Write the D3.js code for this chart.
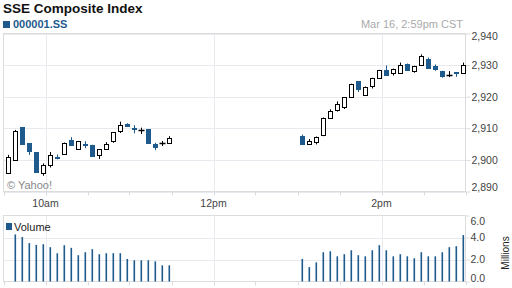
<!DOCTYPE html>
<html><head><meta charset="utf-8">
<script src="https://cdn.jsdelivr.net/npm/d3@7"></script>
<style>
html,body{margin:0;padding:0;background:#fff;}
svg{display:block;font-family:"Liberation Sans",Arial,sans-serif;}
</style></head>
<body>
<svg id="c" width="512" height="288"></svg>
<script>
// ---- data ----
const times = ["09:30","09:35","09:40","09:45","09:50","09:55","10:00","10:05","10:10","10:15","10:20","10:25",
  "10:30","10:35","10:40","10:45","10:50","10:55","11:00","11:05","11:10","11:15","11:20","11:25",
  "13:00","13:05","13:10","13:15","13:20","13:25","13:30","13:35","13:40","13:45","13:50","13:55",
  "14:00","14:05","14:10","14:15","14:20","14:25","14:30","14:35","14:40","14:45","14:50","14:55"];
const opens  = [2895.7,2900.2,2910.4,2905.3,2902.5,2896.1,2898.3,2901.0,2901.9,2906.2,2903.6,2905.1,
  2904.8,2901.4,2903.3,2906.0,2909.3,2911.4,2910.1,2909.4,2909.8,2905.0,2905.2,2905.3,
  2907.7,2905.1,2905.8,2907.9,2913.1,2915.8,2916.6,2920.0,2924.9,2920.7,2923.4,2926.0,
  2928.6,2927.6,2927.6,2930.2,2928.2,2930.2,2932.0,2929.6,2928.2,2926.8,2927.7,2927.6];
const closes = [2900.8,2909.3,2904.8,2902.6,2895.9,2898.5,2901.5,2900.6,2905.5,2904.4,2906.0,2904.7,
  2901.0,2903.3,2905.0,2908.8,2911.2,2910.4,2909.7,2909.4,2905.2,2903.7,2905.2,2906.9,
  2904.8,2905.9,2907.4,2913.4,2915.4,2917.8,2919.8,2924.1,2921.9,2923.2,2926.0,2928.5,
  2926.7,2928.9,2930.1,2928.1,2929.8,2933.0,2928.9,2928.2,2926.3,2926.8,2927.0,2930.0];
const highs  = [2901.6,2909.5,2910.4,2905.3,2902.5,2898.9,2902.5,2901.7,2905.5,2907.2,2906.0,2905.9,
  2904.8,2903.3,2905.6,2908.8,2912.1,2911.6,2911.0,2910.2,2909.8,2905.4,2906.0,2907.5,
  2908.0,2906.6,2907.4,2913.4,2916.0,2918.5,2919.8,2924.1,2924.9,2923.2,2926.0,2928.5,
  2929.9,2928.9,2930.8,2930.5,2929.8,2933.4,2932.4,2930.2,2928.2,2928.1,2927.7,2930.8];
const lows   = [2895.7,2900.2,2904.8,2901.6,2895.9,2895.0,2897.6,2900.2,2901.9,2904.4,2903.6,2903.7,
  2901.0,2900.3,2903.3,2905.4,2908.5,2910.4,2908.4,2908.2,2905.2,2903.1,2904.4,2905.3,
  2904.8,2905.1,2904.9,2907.5,2913.1,2915.3,2916.1,2920.0,2921.5,2920.7,2922.6,2926.0,
  2926.7,2926.7,2927.6,2928.1,2927.6,2930.2,2928.9,2928.2,2926.0,2926.2,2926.3,2927.6];
const volumes = [null,4.28,4.04,3.49,3.33,3.39,3.12,2.57,3.30,3.06,2.39,2.66,
  2.94,2.48,2.57,2.57,2.57,2.05,1.93,1.93,1.93,1.83,1.47,1.47,
  2.05,1.31,1.74,2.66,2.75,2.29,2.48,2.84,2.39,2.29,2.84,3.30,
  2.84,2.29,2.48,2.29,2.11,2.66,2.29,2.29,2.66,3.12,3.21,4.22];
const priceTicks = [2890,2900,2910,2920,2930,2940];
const volTicks = [0,2,4,6];
const timeLabels = [["10:00","10am"],["12:00","12pm"],["14:00","2pm"]];
const title = "SSE Composite Index";
const symbol = "000001.SS";
const stamp = "Mar 16, 2:59pm CST";

// ---- setup ----
const svg = d3.select("#c");
const parse = s => { const [h,m] = s.split(":").map(Number); return new Date(2015,2,16,h,m); };
const rows = times.map((t,i)=>({t:parse(t),o:opens[i],c:closes[i],h:highs[i],l:lows[i],v:volumes[i]}));
const BLUE = "#1f5a8d", GRID = "#e9e9f0", FRAME = "#dcdcdc", TXT = "#444";

const x = d3.scaleTime().domain([parse("09:30"),parse("15:00")]).range([3.5,465.5]);
const y = d3.scaleLinear().domain([2890,2940]).range([191.5,33.5]);
const yv = d3.scaleLinear().domain([0,6]).range([281.5,215.5]);
const cx = d => Math.round(x(new Date(+d.t + 3.5*60000))) + 0.5;
const px = v => Math.round(v) + 0.5;

// title
svg.append("text").attr("x",3).attr("y",13).attr("font-size",13.5).attr("font-weight","bold")
  .attr("fill","#111").text(title);
svg.append("rect").attr("x",3).attr("y",21).attr("width",7).attr("height",7).attr("fill",BLUE);
svg.append("text").attr("x",13).attr("y",28).attr("font-size",11).attr("font-weight","bold")
  .attr("fill",BLUE).text(symbol);
svg.append("text").attr("x",463).attr("y",28).attr("text-anchor","end").attr("font-size",11)
  .attr("fill","#aaa").text(stamp);

// ---- main panel grid ----
const g = svg.append("g");
g.selectAll(".hg").data(priceTicks).join("line")
  .attr("x1",3.5).attr("x2",465.5).attr("y1",d=>px(y(d))).attr("y2",d=>px(y(d)))
  .attr("stroke",GRID);
g.selectAll(".vg").data(timeLabels).join("line")
  .attr("x1",d=>px(x(parse(d[0])))).attr("x2",d=>px(x(parse(d[0]))))
  .attr("y1",33.5).attr("y2",191.5).attr("stroke",GRID);
g.append("rect").attr("x",3.5).attr("y",33.5).attr("width",462).attr("height",158)
  .attr("fill","none").attr("stroke",FRAME);

// right axis
const yAxis = d3.axisRight(y).tickValues(priceTicks).tickSize(5).tickFormat(d3.format(","));
const ya = svg.append("g").attr("transform","translate(465.5,0)").call(yAxis);
ya.select(".domain").remove();
ya.selectAll("line").attr("stroke",FRAME);
ya.selectAll("text").attr("font-size",10.5).attr("fill",TXT).attr("x",6)
  .attr("font-family","Liberation Sans,Arial,sans-serif")
  .attr("dy",d=> d===2890 ? "-0.05em" : (d===2940 ? "0.55em" : "0.32em"));

// bottom time axis (ticks every 30 min)
const tickTimes = d3.timeMinute.every(30).range(parse("09:30"),parse("15:01"));
svg.selectAll(".bt").data(tickTimes).join("line")
  .attr("x1",d=>px(x(d))).attr("x2",d=>px(x(d))).attr("y1",191.5).attr("y2",195.5).attr("stroke",FRAME);
svg.selectAll(".bl").data(timeLabels).join("text")
  .attr("x",d=>x(parse(d[0]))).attr("y",207).attr("text-anchor","middle")
  .attr("font-size",10.5).attr("fill",TXT).text(d=>d[1]);

svg.append("text").attr("x",7).attr("y",189).attr("font-size",11).attr("fill","#888").text("\u00A9 Yahoo!");

// ---- candles ----
const cg = svg.append("g");
rows.forEach(d=>{
  const up = d.c > d.o, flat = d.c === d.o;
  const col = flat ? "#000" : (up ? "#000" : BLUE);
  const X = cx(d);
  cg.append("line").attr("x1",X).attr("x2",X).attr("y1",y(d.h)).attr("y2",y(d.l))
    .attr("stroke",col).attr("stroke-width",1);
  if (flat) {
    cg.append("line").attr("x1",X-3).attr("x2",X+3).attr("y1",px(y(d.o))).attr("y2",px(y(d.o)))
      .attr("stroke",col).attr("stroke-width",1.5);
  } else if (up) {
    const t = y(d.c), b = y(d.o);
    cg.append("rect").attr("x",X-2).attr("y",px(t)).attr("width",4)
      .attr("height",Math.max(2,Math.round(b-t))).attr("fill","#fff").attr("stroke","#000");
  } else {
    const t = y(d.o), b = y(d.c);
    cg.append("rect").attr("x",X-2.5).attr("y",Math.round(t)).attr("width",5)
      .attr("height",Math.max(2,Math.round(b-t))).attr("fill",BLUE);
  }
});

// ---- volume panel ----
const vg = svg.append("g");
vg.selectAll(".vh").data([2,4]).join("line")
  .attr("x1",3.5).attr("x2",465.5).attr("y1",d=>px(yv(d))).attr("y2",d=>px(yv(d))).attr("stroke",GRID);
vg.selectAll(".vv").data(timeLabels).join("line")
  .attr("x1",d=>px(x(parse(d[0])))).attr("x2",d=>px(x(parse(d[0]))))
  .attr("y1",215.5).attr("y2",281.5).attr("stroke",GRID);
vg.append("rect").attr("x",3.5).attr("y",215.5).attr("width",462).attr("height",66)
  .attr("fill","none").attr("stroke",FRAME);
vg.selectAll(".vb").data(rows.filter(d=>d.v!=null)).join("rect")
  .attr("x",d=>cx(d)-1).attr("width",1.6).attr("y",d=>yv(d.v)).attr("height",d=>yv(0)-yv(d.v))
  .attr("fill",BLUE);
vg.selectAll(".vt").data(tickTimes).join("line")
  .attr("x1",d=>px(x(d))).attr("x2",d=>px(x(d))).attr("y1",281.5).attr("y2",285.5).attr("stroke",FRAME);

const vAxis = d3.axisRight(yv).tickValues(volTicks).tickSize(4).tickFormat(d3.format(".1f"));
const va = svg.append("g").attr("transform","translate(465.5,0)").call(vAxis);
va.select(".domain").remove();
va.selectAll("line").attr("stroke",FRAME);
va.selectAll("text").attr("font-size",10.5).attr("fill",TXT).attr("x",5)
  .attr("font-family","Liberation Sans,Arial,sans-serif")
  .attr("dy",d=> d===6 ? "0.85em" : (d===0 ? "0em" : "0.32em"));

svg.append("rect").attr("x",6).attr("y",223).attr("width",6).attr("height",7).attr("fill",BLUE);
svg.append("text").attr("x",14).attr("y",231).attr("font-size",11).attr("fill","#222").text("Volume");
svg.append("text").attr("transform","translate(509,253) rotate(-90)").attr("text-anchor","middle")
  .attr("font-size",10).attr("fill","#222").text("Millions");
</script>
</body></html>
